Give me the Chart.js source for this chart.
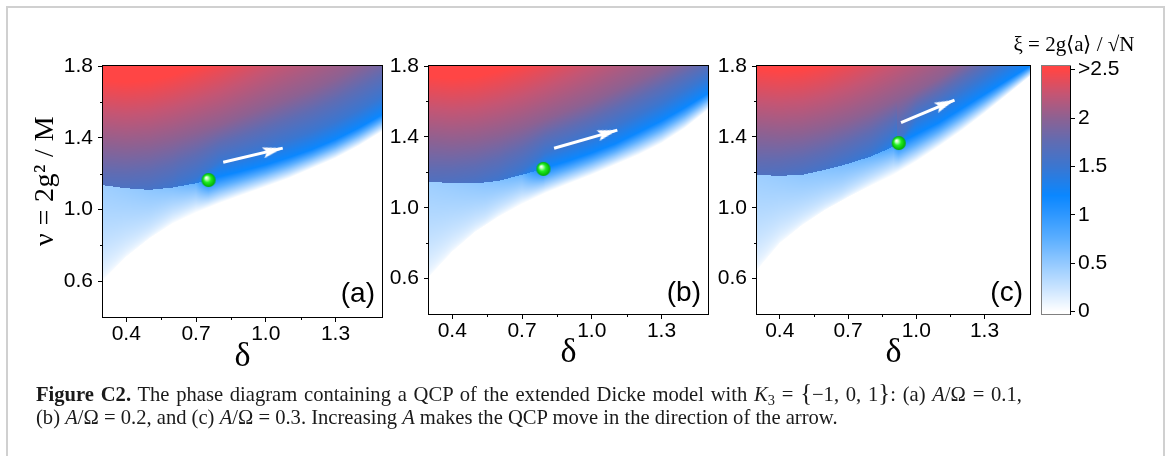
<!DOCTYPE html>
<html><head><meta charset="utf-8">
<script src="https://cdn.jsdelivr.net/npm/chart.js@4.4.1/dist/chart.umd.min.js"></script>
<style>
html,body{margin:0;padding:0;background:#fff;}
body{width:1167px;height:456px;overflow:hidden;position:relative;}
#frame{position:absolute;left:6px;top:6px;width:1155px;height:480px;border:2px solid #d0d0d0;}
canvas.c{position:absolute;top:0;}
#cbtitle{position:absolute;left:974px;width:200px;text-align:center;top:33px;font:21px/22px "Liberation Serif",serif;color:#000;white-space:nowrap;}
#caption{position:absolute;left:36px;top:383px;font:20.6px/22.6px "Liberation Serif",serif;color:#1a1a1a;white-space:nowrap;}
#caption .l1{word-spacing:1.6px;}
#caption .br{font-size:120%;line-height:0;}
#caption sub{font-size:70%;line-height:0;vertical-align:-0.25em;}
</style></head>
<body>
<div id="frame"></div>
<canvas id="pa" class="c" width="400" height="380" style="left:0px"></canvas>
<canvas id="pb" class="c" width="340" height="380" style="left:385px"></canvas>
<canvas id="pc" class="c" width="330" height="380" style="left:715px"></canvas>
<canvas id="cb" class="c" width="127" height="380" style="left:1040px"></canvas>
<div id="cbtitle">ξ = 2g⟨a⟩ / √N</div>
<div id="caption"><span class="l1"><b>Figure C2.</b> The phase diagram containing a QCP of the extended Dicke model with <i>K</i><sub>3</sub> = <span class="br">{</span>−1, 0, 1<span class="br">}</span>: (a) <i>A</i>/Ω = 0.1,</span><br>(b) <i>A</i>/Ω = 0.2, and (c) <i>A</i>/Ω = 0.3. Increasing <i>A</i> makes the QCP move in the direction of the arrow.</div>
<script>
Chart.defaults.font.family = '"Liberation Sans", Arial, sans-serif';
Chart.defaults.color = '#000';

// ---- axes ----
const delta = [0.3,0.4,0.5,0.6,0.7,0.8,0.9,1.0,1.1,1.2,1.3,1.4,1.5];
const xMajor = [0.4,0.7,1.0,1.3];
const xMinor = [0.55,0.85,1.15];
const yMajor = [0.6,1.0,1.4,1.8];
const yMinor = [0.8,1.2,1.6];
const cbTicks = [0,0.5,1,1.5,2,2.5];
const cbLabels = ['0','0.5','1','1.5','2','>2.5'];
const xiLevels = [1.5,2.0,2.5];
const xiRidge = 1.2;

// ---- panel (a) A/Omega = 0.1 ----
const aNu0     = [0.606,0.736,0.839,0.922,0.982,1.034,1.081,1.127,1.174,1.230,1.286,1.355,1.435];
const aNuB     = [1.135,1.118,1.109,1.122,1.146,1.183,1.215,1.249,1.290,1.335,1.390,1.455,1.528];
const aXiBelow = [0.45,0.48,0.52,0.58,0.72,1.2,1.2,1.2,1.2,1.2,1.2,1.2,1.2];
const aXiAbove = [1.65,1.62,1.58,1.52,1.40,1.2,1.2,1.2,1.2,1.2,1.2,1.2,1.2];
const aNu15    = [1.10,1.10,1.10,1.12,1.18,1.27,1.305,1.345,1.39,1.435,1.49,1.555,1.628];
const aNu20    = [1.36,1.35,1.36,1.39,1.43,1.47,1.52,1.57,1.62,1.67,1.73,1.80,1.87];
const aNu25    = [1.72,1.71,1.72,1.75,1.79,1.84,1.90,1.97,2.04,2.11,2.18,2.26,2.34];
const aQcp     = [0.754,1.164];
const aArrow   = [[0.817,1.263],[1.073,1.342]];

// ---- panel (b) A/Omega = 0.2 ----
const bNu0     = [0.610,0.752,0.865,0.950,1.021,1.082,1.135,1.186,1.242,1.298,1.364,1.449,1.553];
const bNuB     = [1.148,1.138,1.137,1.152,1.186,1.225,1.265,1.310,1.360,1.425,1.490,1.565,1.645];
const bXiBelow = [0.45,0.48,0.52,0.58,0.68,1.2,1.2,1.2,1.2,1.2,1.2,1.2,1.2];
const bXiAbove = [1.65,1.62,1.58,1.52,1.42,1.2,1.2,1.2,1.2,1.2,1.2,1.2,1.2];
const bNu15    = [1.10,1.10,1.10,1.13,1.21,1.31,1.355,1.405,1.46,1.525,1.59,1.665,1.74];
const bNu20    = [1.38,1.37,1.38,1.41,1.45,1.50,1.55,1.60,1.66,1.72,1.78,1.84,1.90];
const bNu25    = [1.74,1.73,1.74,1.77,1.81,1.86,1.92,1.99,2.06,2.13,2.20,2.28,2.36];
const bQcp     = [0.792,1.219];
const bArrow   = [[0.838,1.336],[1.110,1.438]];

// ---- panel (c) A/Omega = 0.3 ----
const cNu0     = [0.648,0.800,0.903,0.988,1.059,1.124,1.185,1.261,1.346,1.436,1.534,1.638,1.742];
const cNuB     = [1.185,1.180,1.186,1.214,1.248,1.289,1.345,1.415,1.480,1.560,1.640,1.720,1.800];
const cXiBelow = [0.45,0.48,0.52,0.56,0.62,0.70,0.85,1.2,1.2,1.2,1.2,1.2,1.2];
const cXiAbove = [1.65,1.62,1.58,1.55,1.50,1.45,1.33,1.2,1.2,1.2,1.2,1.2,1.2];
const cNu15    = [1.15,1.15,1.16,1.19,1.23,1.27,1.33,1.51,1.58,1.66,1.74,1.82,1.90];
const cNu20    = [1.42,1.41,1.42,1.45,1.49,1.54,1.60,1.66,1.73,1.81,1.89,1.97,2.05];
const cNu25    = [1.78,1.77,1.78,1.81,1.86,1.92,1.99,2.07,2.15,2.24,2.33,2.42,2.50];
const cQcp     = [0.923,1.365];
const cArrow   = [[0.933,1.481],[1.168,1.608]];

// ---- colour map (colour bar stops) ----
const cmapXi  = [0,0.25,0.5,0.75,1.0,1.2,1.5,1.75,2.0,2.25,2.5];
const cmapHex = ['#ffffff','#c8e3ff','#93c9ff','#5cafff','#2e97ff','#0a87ff','#3b76d0','#5f6cb3','#8d6192','#c55573','#ff4545'];
const cmapRgb = cmapHex.map(h => [parseInt(h.substr(1,2),16),parseInt(h.substr(3,2),16),parseInt(h.substr(5,2),16)]);

function cmap(v){
  if (v <= cmapXi[0]) return cmapRgb[0];
  const n = cmapXi.length;
  if (v >= cmapXi[n-1]) return cmapRgb[n-1];
  let i = 0; while (v > cmapXi[i+1]) i++;
  const t = (v - cmapXi[i])/(cmapXi[i+1]-cmapXi[i]);
  const a = cmapRgb[i], b = cmapRgb[i+1];
  return [a[0]+(b[0]-a[0])*t, a[1]+(b[1]-a[1])*t, a[2]+(b[2]-a[2])*t];
}

// linear interpolation on the delta grid; optional extra node (qd, qv) at the QCP
function lerpArr(arr, d, qd, qv){
  const n = delta.length;
  if (d <= delta[0]) return arr[0];
  if (d >= delta[n-1]) return arr[n-1];
  let i = 0; while (d > delta[i+1]) i++;
  let x0 = delta[i], y0 = arr[i], x1 = delta[i+1], y1 = arr[i+1];
  if (qd !== undefined && qd > x0 && qd < x1){
    if (d < qd){ x1 = qd; y1 = qv; } else { x0 = qd; y0 = qv; }
  }
  return y0 + (y1 - y0)*(d - x0)/(x1 - x0);
}

function columnAt(f, d){
  const qd = f.qcp[0];
  const c = {
    nu0: lerpArr(f.nu0, d),
    nuB: lerpArr(f.nuB, d, qd, f.qcp[1]),
    n: [lerpArr(f.nu15, d), lerpArr(f.nu20, d), lerpArr(f.nu25, d)]
  };
  if (d < qd){ c.xiB = lerpArr(f.xiBelow, d, qd, xiRidge); c.xiA = lerpArr(f.xiAbove, d, qd, xiRidge); }
  else { c.xiB = xiRidge; c.xiA = xiRidge; }
  // shape of the fade below the line: softer edge on the metastable side, linear beyond the QCP
  c.p = d >= qd ? 1 : (d <= qd - 0.25 ? 0.55 : 0.55 + 0.45*(d - (qd - 0.25))/0.25);
  return c;
}

function xiAt(c, nu){
  if (nu <= c.nu0) return 0;
  if (nu < c.nuB) return c.xiB*Math.pow((nu - c.nu0)/(c.nuB - c.nu0), c.p);
  let pn = c.nuB, px = c.xiA;
  for (let k = 0; k < 3; k++){
    const n = c.n[k], x = xiLevels[k];
    if (n <= pn || x <= px) continue;
    if (nu < n) return px + (x - px)*(nu - pn)/(n - pn);
    pn = n; px = x;
  }
  return Math.max(px, 2.5);
}

function drawHeat(chart, f){
  const a = chart.chartArea, xs = chart.scales.x, ys = chart.scales.y;
  const w = Math.round(a.right - a.left), h = Math.round(a.bottom - a.top);
  const off = document.createElement('canvas'); off.width = w; off.height = h;
  const octx = off.getContext('2d');
  const img = octx.createImageData(w, h);
  const nuRow = [];
  for (let j = 0; j < h; j++) nuRow.push(ys.getValueForPixel(a.top + j + 0.5));
  for (let i = 0; i < w; i++){
    const c = columnAt(f, xs.getValueForPixel(a.left + i + 0.5));
    for (let j = 0; j < h; j++){
      const col = cmap(xiAt(c, nuRow[j]));
      const k = (j*w + i)*4;
      img.data[k] = col[0]; img.data[k+1] = col[1]; img.data[k+2] = col[2]; img.data[k+3] = 255;
    }
  }
  octx.putImageData(img, 0, 0);
  chart.ctx.drawImage(off, a.left, a.top);
}

// ---- marker images ----
function makeSphere(r){
  const s = 2*r + 2, c = document.createElement('canvas'); c.width = s; c.height = s;
  const g = c.getContext('2d'), cx = s/2, cy = s/2;
  const grd = g.createRadialGradient(cx - r*0.35, cy - r*0.35, 0.3, cx, cy, r);
  grd.addColorStop(0, '#ffffff'); grd.addColorStop(0.22, '#aaffaa');
  grd.addColorStop(0.5, '#22ee22'); grd.addColorStop(1, '#00aa00');
  g.fillStyle = grd; g.beginPath(); g.arc(cx, cy, r, 0, 2*Math.PI); g.fill();
  return c;
}
function makeHead(len, hw){
  const c = document.createElement('canvas'); c.width = 2*len; c.height = 2*hw + 2;
  const g = c.getContext('2d'), cy = c.height/2;
  g.fillStyle = '#ffffff'; g.beginPath();
  g.moveTo(len, cy); g.lineTo(0, cy - hw); g.lineTo(len*0.18, cy); g.lineTo(0, cy + hw); g.closePath(); g.fill();
  return c;
}
const sphereImg = makeSphere(7);
const headImg = makeHead(20, 5.5);

function arrowAngle(ctx){
  const ds = ctx.dataset;
  if (!ds || !ds.data || ds.data.length < 2) return 0;
  const xs = ctx.chart.scales.x, ys = ctx.chart.scales.y;
  if (!xs || !ys) return 0;
  const p0 = ds.data[0], p1 = ds.data[1];
  const dx = xs.getPixelForValue(p1.x) - xs.getPixelForValue(p0.x);
  const dy = ys.getPixelForValue(p1.y) - ys.getPixelForValue(p0.y);
  const ang = Math.atan2(dy, dx)*180/Math.PI;
  return isFinite(ang) ? ang : 0;
}

function drawDecor(chart, o){
  const ctx = chart.ctx, a = chart.chartArea, xs = chart.scales.x, ys = chart.scales.y;
  ctx.save();
  ctx.strokeStyle = '#000'; ctx.lineWidth = 1;
  ctx.strokeRect(a.left - 0.5, a.top - 0.5, a.right - a.left + 1, a.bottom - a.top + 1);
  ctx.beginPath();
  xMinor.forEach(v => { const px = Math.round(xs.getPixelForValue(v)) + 0.5; ctx.moveTo(px, a.bottom); ctx.lineTo(px, a.bottom + 3); });
  yMinor.forEach(v => { const py = Math.round(ys.getPixelForValue(v)) + 0.5; ctx.moveTo(a.left, py); ctx.lineTo(a.left - 3, py); });
  ctx.stroke();
  const yt = chart.options.scales.y.title;
  if (o.showYTitle && yt && yt.text){
    ctx.save();
    ctx.translate(46, 181); ctx.rotate(-Math.PI/2);
    ctx.font = '28px "Liberation Serif", serif'; ctx.fillStyle = '#000';
    if ('letterSpacing' in ctx) ctx.letterSpacing = '0.4px';
    ctx.textAlign = 'center'; ctx.textBaseline = 'middle';
    ctx.fillText(yt.text, 0, 0);
    ctx.restore();
  }
  ctx.font = '28px "Liberation Sans", Arial, sans-serif'; ctx.fillStyle = '#000';
  ctx.textAlign = 'right'; ctx.textBaseline = 'alphabetic';
  ctx.fillText(o.label, a.right - 7, a.bottom - o.labelDy);
  ctx.restore();
}

function makePanel(id, o){
  const el = document.getElementById(id);
  const W = el.width, H = el.height;
  const tickGrid = {display:true, drawOnChartArea:false, drawTicks:true, tickLength:5, color:'#000', lineWidth:1};
  return new Chart(el, {
    type: 'scatter',
    data: { datasets: [
      { label:'arrow', type:'line', data:o.arrow.map(p => ({x:p[0], y:p[1]})),
        borderColor:'#ffffff', borderWidth:3, borderCapStyle:'butt', fill:false, tension:0,
        pointRadius:[0,12], pointHoverRadius:0, pointStyle:headImg, pointRotation:arrowAngle },
      { label:'QCP', data:[{x:o.qcp[0], y:o.qcp[1]}], pointStyle:sphereImg, pointRadius:7, pointHoverRadius:7 }
    ]},
    options: {
      responsive:false, animation:false, devicePixelRatio:1, events:[],
      layout: { padding: { left:0, top:o.area.top, right: o.canvasLeft + W - o.area.right, bottom:0 } },
      plugins: { legend:{display:false}, tooltip:{enabled:false} },
      scales: {
        x: { type:'linear', min:0.3, max:1.5, position:'bottom',
             afterBuildTicks: s => { s.ticks = xMajor.map(v => ({value:v})); },
             afterFit: s => { s.height = H - o.area.bottom; s.paddingLeft = 0; s.paddingRight = 0; },
             grid: tickGrid, border:{display:false},
             ticks: { font:{size:21}, color:'#000', padding:0, maxRotation:0, autoSkip:false, callback: v => Number(v).toFixed(1) },
             title: { display:true, text:'δ', color:'#000', font:{family:'"Liberation Serif", serif', size:34}, padding:{top:0, bottom:o.titlePad} } },
        y: { type:'linear', min:0.4, max:1.8, position:'left',
             afterBuildTicks: s => { s.ticks = yMajor.map(v => ({value:v})); },
             afterFit: s => { s.width = o.area.left - o.canvasLeft; s.paddingTop = 0; s.paddingBottom = 0; },
             grid: tickGrid, border:{display:false},
             ticks: { font:{size:21}, color:'#000', padding:5, autoSkip:false, callback: v => Number(v).toFixed(1) },
             title: { display:false, text:'ν = 2g² / M' } }
      }
    },
    plugins: [{ id:'heat_'+id, beforeDatasetsDraw(chart){ drawHeat(chart, o.field); }, afterDraw(chart){ drawDecor(chart, o); } }]
  });
}

makePanel('pa', { canvasLeft:0, area:{left:103, top:66, right:382, bottom:317}, titlePad:3, label:'(a)', labelDy:15, showYTitle:true,
  qcp:aQcp, arrow:aArrow,
  field:{nu0:aNu0, nuB:aNuB, xiBelow:aXiBelow, xiAbove:aXiAbove, nu15:aNu15, nu20:aNu20, nu25:aNu25, qcp:aQcp} });
makePanel('pb', { canvasLeft:385, area:{left:429, top:66, right:708, bottom:314}, titlePad:7, label:'(b)', labelDy:13, showYTitle:false,
  qcp:bQcp, arrow:bArrow,
  field:{nu0:bNu0, nuB:bNuB, xiBelow:bXiBelow, xiAbove:bXiAbove, nu15:bNu15, nu20:bNu20, nu25:bNu25, qcp:bQcp} });
makePanel('pc', { canvasLeft:715, area:{left:757, top:66, right:1036, bottom:314}, titlePad:7, label:'(c)', labelDy:13, showYTitle:false,
  qcp:cQcp, arrow:cArrow,
  field:{nu0:cNu0, nuB:cNuB, xiBelow:cXiBelow, xiAbove:cXiAbove, nu15:cNu15, nu20:cNu20, nu25:cNu25, qcp:cQcp} });

// ---- colour bar ----
new Chart(document.getElementById('cb'), {
  type:'scatter', data:{datasets:[]},
  options:{
    responsive:false, animation:false, devicePixelRatio:1, events:[],
    layout:{padding:{left:2, top:66, right:0, bottom:66}},
    plugins:{legend:{display:false}, tooltip:{enabled:false}},
    scales:{
      x:{type:'linear', display:false, min:0, max:1},
      y:{type:'linear', position:'right', min:-0.024, max:2.538,
         afterBuildTicks: s => { s.ticks = cbTicks.map(v => ({value:v})); },
         afterFit: s => { s.width = 97; s.paddingTop = 0; s.paddingBottom = 0; },
         grid:{display:true, drawOnChartArea:false, drawTicks:true, tickLength:5, color:'#000'},
         border:{display:true, color:'#000', width:1},
         ticks:{font:{size:21}, color:'#000', padding:3, autoSkip:false, callback: v => cbLabels[cbTicks.indexOf(v)] }}
    }
  },
  plugins:[{ id:'cbar', beforeDraw(chart){
    const ctx = chart.ctx, a = chart.chartArea, ys = chart.scales.y;
    for (let y = Math.round(a.top); y < Math.round(a.bottom); y++){
      const c = cmap(ys.getValueForPixel(y + 0.5));
      ctx.fillStyle = 'rgb(' + Math.round(c[0]) + ',' + Math.round(c[1]) + ',' + Math.round(c[2]) + ')';
      ctx.fillRect(a.left, y, a.right - a.left, 1);
    }
    ctx.strokeStyle = '#808080'; ctx.lineWidth = 1;
    ctx.strokeRect(a.left - 0.5, a.top - 0.5, a.right - a.left + 1, a.bottom - a.top + 1);
  }}]
});
</script>
</body></html>
